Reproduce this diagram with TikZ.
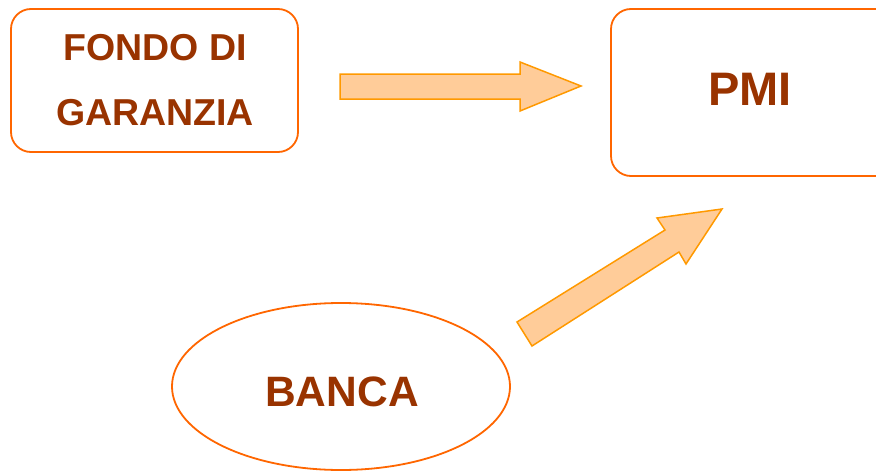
\documentclass[tikz,border=0pt]{standalone}
\usepackage{fontspec}
\setmainfont{Liberation Sans}
\usetikzlibrary{shapes.geometric}
\definecolor{boxline}{HTML}{FF6600}
\definecolor{txt}{HTML}{993300}
\definecolor{arrfill}{HTML}{FFCC99}
\definecolor{arrline}{HTML}{FF9900}
\tikzset{
  box/.style={draw=boxline, line width=1.8pt, rounded corners=20pt},
  lbl/.style={text=txt, font=\bfseries, inner sep=0pt},
  fatarrow/.style={draw=arrline, fill=arrfill, line width=1.5pt, line join=miter}
}
\begin{document}
\begin{tikzpicture}[x=1pt,y=-1pt]
\useasboundingbox (0,0) rectangle (876,471);
% boxes
\draw[box] (11,9) rectangle (298,152);
\draw[box] (611,9) rectangle (900,176);
\node[draw=boxline, line width=1.8pt, ellipse, minimum width=338pt, minimum height=167pt] (banca) at (341,386.5) {};
% labels
\node[lbl, font=\bfseries\fontsize{37.5}{40}\selectfont] (fondo1) at (155,47.5) {FONDO DI};
\node[lbl, font=\bfseries\fontsize{37.5}{40}\selectfont] (fondo2) at (155,112.5) {GARANZIA};
\node[lbl, font=\bfseries\fontsize{47}{50}\selectfont] (pmi) at (750,89) {PMI};
\node[lbl, font=\bfseries\fontsize{42.5}{45}\selectfont] (bancat) at (342,391.5) {BANCA};
% arrows
\draw[fatarrow] (340,74) -- (520,74) -- (520,62) -- (581,86) -- (520,111) -- (520,99) -- (340,99) -- cycle;
\draw[fatarrow] (517,322) -- (665,230) -- (657,218) -- (722,209) -- (686,264) -- (679,252) -- (532,346) -- cycle;
\end{tikzpicture}
\end{document}
